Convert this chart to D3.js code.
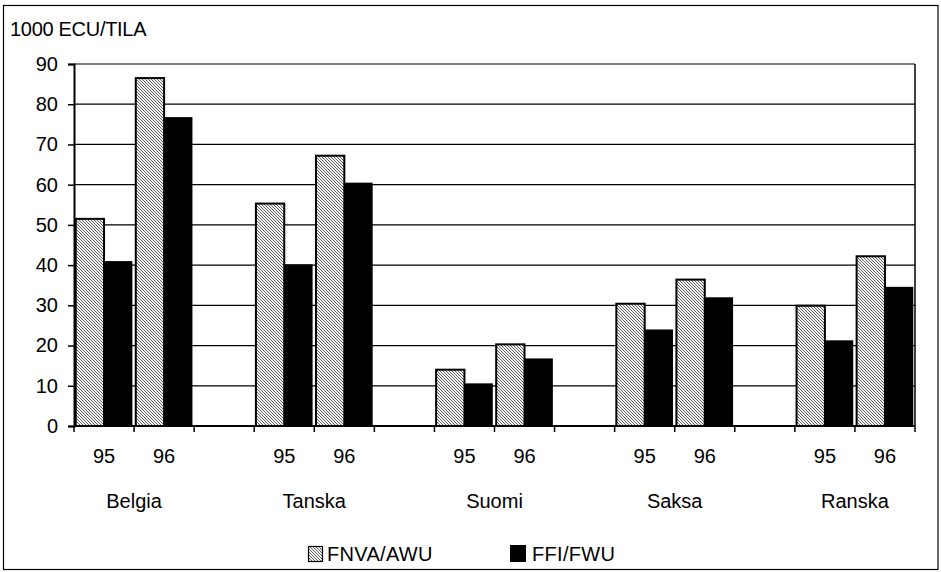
<!DOCTYPE html>
<html><head><meta charset="utf-8">
<script src="https://cdn.jsdelivr.net/npm/d3@7"></script>
<style>body{margin:0;background:#fff}svg{display:block;font-family:"Liberation Sans",Arial,sans-serif}</style>
</head><body><svg id="c" width="941" height="572"></svg>
<script>
const countries = ["Belgia","Tanska","Suomi","Saksa","Ranska"];
const years = ["95","96"];
const fnva = [51.5, 86.5, 55.3, 67.2, 14.0, 20.3, 30.4, 36.4, 29.9, 42.2];
const ffi  = [41.0, 76.8, 40.2, 60.5, 10.6, 16.8, 24.0, 32.0, 21.3, 34.6];
const yTicks = [0,10,20,30,40,50,60,70,80,90];
const seriesNames = ["FNVA/AWU","FFI/FWU"];

const FS = 20;
const svg = d3.select("#c");
const defs = svg.append("defs");
const pat = defs.append("pattern").attr("id","hatch").attr("patternUnits","userSpaceOnUse")
  .attr("width",3).attr("height",3);
pat.append("rect").attr("width",3).attr("height",3).attr("fill","#f2f2f2");
pat.append("path").attr("d","M-1,-1 L4,4 M-1,2 L1,4 M2,-1 L4,1").attr("stroke","#555").attr("stroke-width",0.9);

svg.append("rect").attr("x",3.5).attr("y",5.5).attr("width",934.5).attr("height",564)
  .attr("fill","none").attr("stroke","#000").attr("stroke-width",1.2);

const L=74,R=915,T=64,B=426;
const slots=[];
countries.forEach((c,i)=>{years.forEach(yr=>slots.push(c+"|"+yr)); if(i<countries.length-1) slots.push("gap"+i);});
const x = d3.scaleBand().domain(slots).range([L,R]).paddingInner(0).paddingOuter(0);
const y = d3.scaleLinear().domain([0,90]).range([B,T]);

svg.append("g").selectAll("line").data(yTicks).join("line")
  .attr("x1",L).attr("x2",R).attr("y1",d=>y(d)).attr("y2",d=>y(d))
  .attr("stroke","#000").attr("stroke-width",1.2);
svg.append("line").attr("x1",R).attr("x2",R).attr("y1",T).attr("y2",B).attr("stroke","#000").attr("stroke-width",1.5);

const data=[];
countries.forEach((c,i)=>years.forEach((yr,j)=>{
  const k=i*2+j; data.push({key:c+"|"+yr, a:fnva[k], b:ffi[k]});
}));
const bw = x.bandwidth();
const inner = d3.scaleBand().domain([0,1]).range([0,bw]).paddingOuter(0.06).paddingInner(0);
const g=svg.append("g");
g.selectAll("rect.a").data(data).join("rect").attr("class","a")
  .attr("x",d=>x(d.key)+inner(0)).attr("width",inner.bandwidth())
  .attr("y",d=>y(d.a)).attr("height",d=>B-y(d.a))
  .attr("fill","url(#hatch)").attr("stroke","#000").attr("stroke-width",2);
g.selectAll("rect.b").data(data).join("rect").attr("class","b")
  .attr("x",d=>x(d.key)+inner(1)).attr("width",inner.bandwidth())
  .attr("y",d=>y(d.b)).attr("height",d=>B-y(d.b))
  .attr("fill","#000");

const ya = svg.append("g").attr("transform",`translate(${L},0)`)
  .call(d3.axisLeft(y).tickValues(yTicks).tickSize(6).tickPadding(10));
ya.select(".domain").attr("stroke-width",2);
ya.selectAll("line").attr("stroke-width",1.5);
ya.selectAll("text").attr("font-size",FS).attr("fill","#000").attr("font-family","Liberation Sans, Arial");

const xa = svg.append("g").attr("transform",`translate(0,${B})`);
xa.append("line").attr("x1",L).attr("x2",R).attr("stroke","#000").attr("stroke-width",2);
const tickPos = slots.map(s=>x(s)).concat([R]);
xa.selectAll("line.t").data(tickPos).join("line").attr("class","t")
  .attr("x1",d=>d).attr("x2",d=>d).attr("y1",0).attr("y2",6).attr("stroke","#000").attr("stroke-width",1.5);
xa.selectAll("text.yr").data(data).join("text").attr("class","yr")
  .attr("x",d=>x(d.key)+bw/2).attr("y",37).attr("text-anchor","middle")
  .attr("font-size",FS).text(d=>d.key.split("|")[1]);
xa.selectAll("text.cn").data(countries).join("text").attr("class","cn")
  .attr("x",c=>(x(c+"|95")+x(c+"|96")+bw)/2).attr("y",82).attr("text-anchor","middle")
  .attr("font-size",FS).text(c=>c);

svg.append("text").attr("x",10).attr("y",36).attr("font-size",FS).attr("letter-spacing",-0.3).text("1000 ECU/TILA");

const lg = svg.append("g");
lg.append("rect").attr("x",308.5).attr("y",546.5).attr("width",14).attr("height",15).attr("fill","url(#hatch)").attr("stroke","#000").attr("stroke-width",1.2);
lg.append("rect").attr("x",510).attr("y",545).attr("width",16).attr("height",17).attr("fill","#000");
lg.selectAll("text").data(seriesNames).join("text").attr("x",(d,i)=>i===0?327:532).attr("y",561)
  .attr("font-size",FS).attr("letter-spacing",0.3).text(d=>d);
</script></body></html>
